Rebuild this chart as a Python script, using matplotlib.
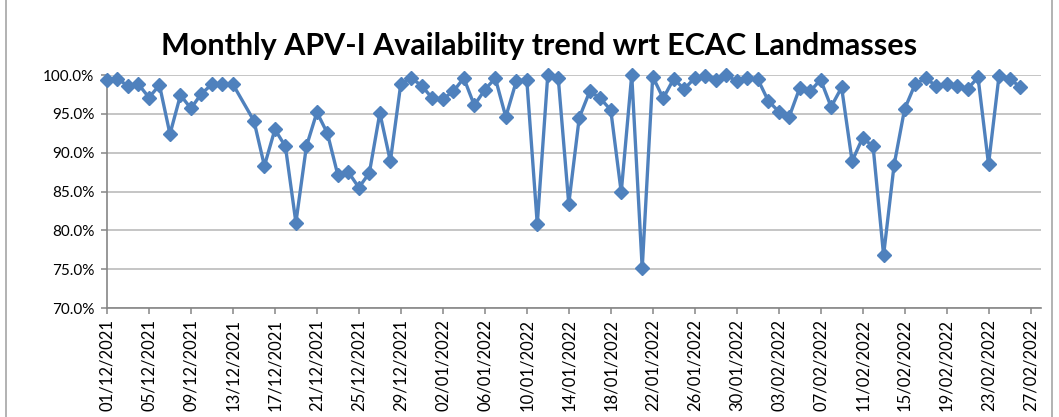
import numpy as np
import pandas as pd
import matplotlib
matplotlib.use("Agg")
import matplotlib.pyplot as plt
import matplotlib.dates as mdates
from matplotlib.ticker import PercentFormatter, MultipleLocator
from matplotlib.lines import Line2D

# ============================================
# DATA (daily availability, %), 14/12/2021 has no value
# ============================================
first_day = "2021-12-01"
last_day = "2022-02-26"
missing_days = ["2021-12-14"]

availability = [
    99.4, 99.5, 98.6, 98.8, 97.1, 98.7, 92.4, 97.4, 95.7, 97.6, 98.8, 98.8, 98.8, 94.1,
    88.3, 93.0, 90.8, 81.0, 90.8, 95.2, 92.5, 87.1, 87.5, 85.5, 87.4, 95.1, 88.9, 98.9, 99.6,
    98.6, 97.0, 96.9, 97.9, 99.6, 96.1, 98.1, 99.6, 94.6, 99.2, 99.4, 80.8, 100.0, 99.6,
    83.4, 94.5, 97.9, 97.0, 95.5, 84.9, 100.0, 75.1, 99.8, 97.0, 99.5, 98.2, 99.6, 99.9, 99.4,
    100.0, 99.2, 99.6, 99.5, 96.7, 95.3, 94.6, 98.3, 97.9, 99.4, 95.9, 98.4, 88.9, 91.9,
    90.8, 76.8, 88.4, 95.6, 98.8, 99.6, 98.6, 98.9, 98.6, 98.2, 99.7, 88.5, 99.9, 99.5, 98.5,
]

title = "Monthly APV-I Availability trend wrt ECAC Landmasses"

dates = pd.date_range(first_day, last_day, freq="D")
dates = dates[~dates.isin(pd.to_datetime(missing_days))]

BLUE = "#4F81BD"
AXIS_GREY = "#868686"
GRID_GREY = "#C0C0C0"

plt.rcParams["font.family"] = ["Lato", "DejaVu Sans"]

fig = plt.figure(figsize=(10.59, 4.17), dpi=100)
ax = fig.add_axes([107 / 1059, 1 - 308 / 417, (1041 - 107) / 1059, (308 - 75) / 417])

ax.plot(dates, availability, color=BLUE, lw=2.4, marker="D", markersize=7.5,
        markerfacecolor=BLUE, markeredgecolor=BLUE, zorder=3, clip_on=False)

# axes
ax.set_ylim(70, 100)
ax.yaxis.set_major_locator(MultipleLocator(5))
ax.yaxis.set_major_formatter(PercentFormatter(100, decimals=1))
ax.grid(axis="y", color=GRID_GREY, lw=1.3, zorder=0)

start = pd.Timestamp(first_day)
ax.set_xlim(start, start + pd.Timedelta(days=89))
tick_days = pd.date_range(first_day, "2022-02-27", freq="4D")
ax.set_xticks(tick_days)
ax.xaxis.set_major_formatter(mdates.DateFormatter("%d/%m/%Y"))
plt.setp(ax.get_xticklabels(), rotation=90, ha="center", va="top")

for side in ["top", "right"]:
    ax.spines[side].set_visible(False)
for side in ["left", "bottom"]:
    ax.spines[side].set_color(AXIS_GREY)
    ax.spines[side].set_linewidth(1.2)
ax.tick_params(axis="both", direction="out", length=4, width=1.1, color=AXIS_GREY,
               labelcolor="black")
ax.tick_params(axis="y", pad=5, labelsize=11)
ax.tick_params(axis="x", pad=4, labelsize=12)

fig.text(0.509, 1 - 46 / 417, title, ha="center", va="center",
         fontsize=22, fontweight="bold", color="black")

# chart area border (left / right)
for xb in [6 / 1059, 1052 / 1059]:
    fig.add_artist(Line2D([xb, xb], [0, 1], color="#A6A6A6", lw=1.2,
                          transform=fig.transFigure))

fig.savefig("out.png", dpi=100)
plt.close(fig)
print("[OK] out.png")
